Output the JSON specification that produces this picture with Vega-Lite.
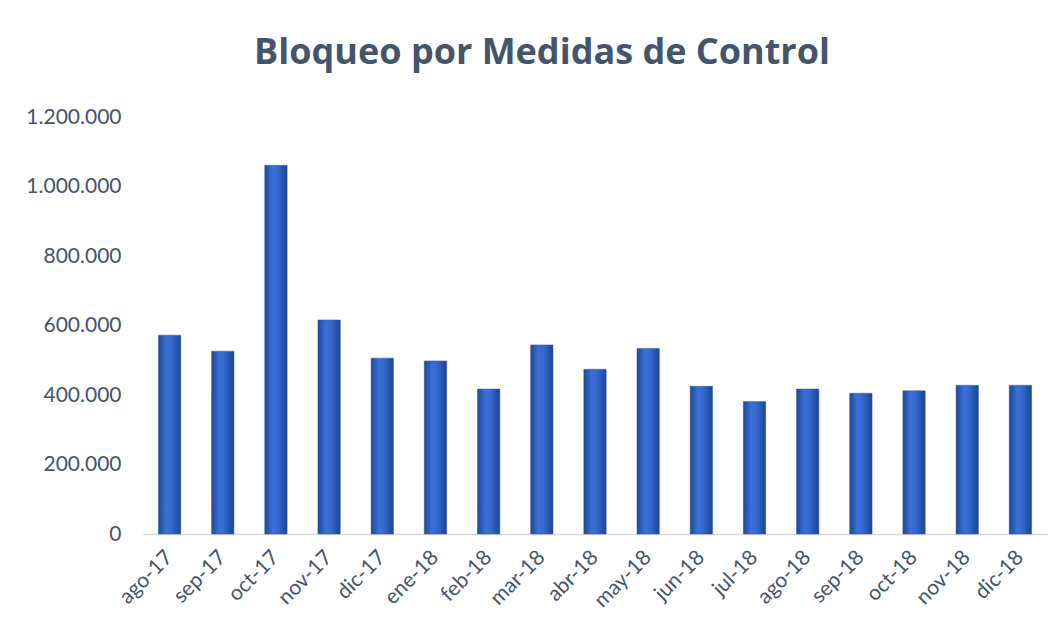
{
  "$schema": "https://vega.github.io/schema/vega-lite/v6.json",
  "autosize": "none",
  "width": 904,
  "height": 417,
  "padding": {"left": 143, "top": 117, "right": 16, "bottom": 98},
  "background": "white",
  "config": {
    "view": {"stroke": null},
    "locale": {"number": {"decimal": ",", "thousands": ".", "grouping": [3], "currency": ["", " €"]}},
    "font": "Lato"
  },
  "title": {
    "text": "Bloqueo por Medidas de Control",
    "fontSize": 36,
    "fontWeight": "bold",
    "font": "Open Sans",
    "color": "#44546a",
    "anchor": "middle",
    "frame": "group",
    "dx": -53,
    "offset": 34
  },
  "data": {
    "values": [
      {"mes": "ago-17", "valor": 572000},
      {"mes": "sep-17", "valor": 526000},
      {"mes": "oct-17", "valor": 1061000},
      {"mes": "nov-17", "valor": 616000},
      {"mes": "dic-17", "valor": 506000},
      {"mes": "ene-18", "valor": 498000},
      {"mes": "feb-18", "valor": 417000},
      {"mes": "mar-18", "valor": 544000},
      {"mes": "abr-18", "valor": 474000},
      {"mes": "may-18", "valor": 534000},
      {"mes": "jun-18", "valor": 425000},
      {"mes": "jul-18", "valor": 381000},
      {"mes": "ago-18", "valor": 417000},
      {"mes": "sep-18", "valor": 405000},
      {"mes": "oct-18", "valor": 412000},
      {"mes": "nov-18", "valor": 428000},
      {"mes": "dic-18", "valor": 428000}
    ]
  },
  "mark": {
    "type": "bar",
    "fill": {
      "gradient": "linear",
      "x1": 0, "x2": 1, "y1": 0, "y2": 0,
      "stops": [
        {"offset": 0, "color": "#1f4796"},
        {"offset": 0.35, "color": "#3a70d8"},
        {"offset": 0.6, "color": "#3367cc"},
        {"offset": 1, "color": "#1d4590"}
      ]
    },
    "stroke": "#2a57ad",
    "strokeWidth": 0.5
  },
  "encoding": {
    "x": {
      "field": "mes",
      "type": "ordinal",
      "sort": null,
      "scale": {"paddingInner": 0.58, "paddingOuter": 0.29},
      "axis": {
        "title": null,
        "labelAngle": -45,
        "labelAlign": "right",
        "labelBaseline": "middle",
        "labelFontSize": 21,
        "labelColor": "#44546a",
        "labelPadding": 20,
        "ticks": false,
        "domainColor": "#d9d9d9",
        "domainWidth": 1.5
      }
    },
    "y": {
      "field": "valor",
      "type": "quantitative",
      "scale": {"domain": [0, 1200000]},
      "axis": {
        "title": null,
        "values": [0, 200000, 400000, 600000, 800000, 1000000, 1200000],
        "format": ",d",
        "grid": false,
        "domain": false,
        "ticks": false,
        "labelFontSize": 21,
        "labelColor": "#44546a",
        "labelPadding": 22
      }
    }
  }
}
